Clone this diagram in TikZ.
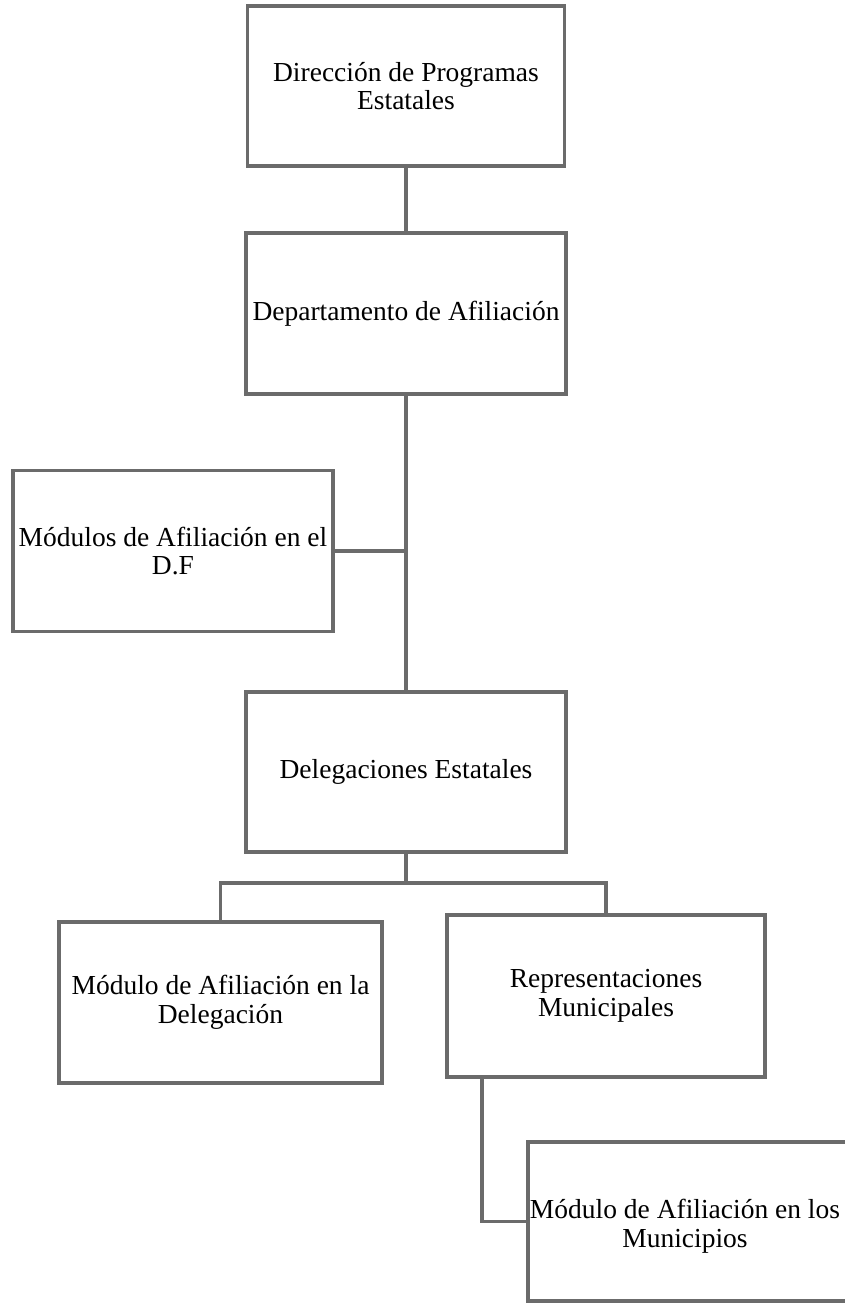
\documentclass[tikz,border=0pt]{standalone}
\usepackage{fontspec}
\setmainfont{Liberation Serif}
\begin{document}
\begin{tikzpicture}[x=1pt,y=1pt,
  orgbox/.style={draw=black!58, line width=3.6pt, rectangle, inner sep=0pt, align=center,
    font=\fontsize{27.5}{28.5}\selectfont, text=black},
  boxtext/.style={inner sep=0pt, align=center, font=\fontsize{27.5}{28.5}\selectfont, text=black},
  link/.style={draw=black!58, line width=3.6pt}]
\useasboundingbox (0,0) rectangle (844,-1303);
\node[orgbox, minimum width=317pt, minimum height=160pt] (b1) at (406,-86) {Dirección de Programas\\Estatales};
\node[orgbox, minimum width=320pt, minimum height=161pt] (b2) at (406,-313.5) {Departamento de Afiliación};
\node[orgbox, minimum width=320pt, minimum height=161pt] (b3) at (173,-551) {Módulos de Afiliación en el\\D.F};
\node[orgbox, minimum width=320pt, minimum height=160pt] (b4) at (406,-772) {Delegaciones Estatales};
\node[orgbox, minimum width=323pt, minimum height=161pt] (b5) at (220.5,-1002.5) {Módulo de Afiliación en la\\Delegación};
\node[orgbox, minimum width=318pt, minimum height=162pt] (b6) at (606,-996) {Representaciones\\Municipales};
\node[orgbox, minimum width=327pt, minimum height=159pt] (b7) at (691.5,-1221.5) {};
\node[boxtext] (b7t) at (685,-1226) {Módulo de Afiliación en los\\Municipios};
\coordinate (br) at (406,-883);
\draw[link] (b1.south) -- (b2.north);
\draw[link] (b2.south) -- (b4.north);
\draw[link] (b3.east) -- (b3.east -| b2.south);
\draw[link] (b4.south) -- (br);
\draw[link] (b5.north) |- (br) -| (b6.north);
\draw[link] ([xshift=-124pt]b6.south) |- (b7.west);
\end{tikzpicture}
\end{document}
